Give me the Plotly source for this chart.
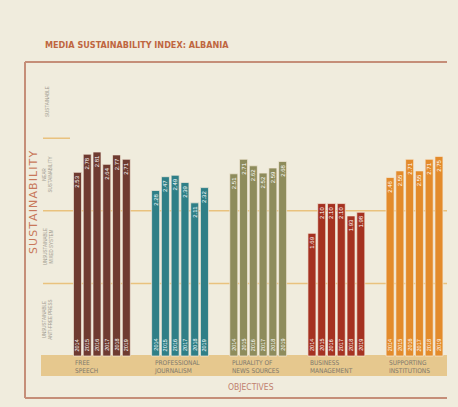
import plotly.graph_objects as go

W, H = 458, 407

categories = ["FREE<br>SPEECH", "PROFESSIONAL<br>JOURNALISM", "PLURALITY OF<br>NEWS SOURCES",
              "BUSINESS<br>MANAGEMENT", "SUPPORTING<br>INSTITUTIONS"]
years = ["2014", "2015", "2016", "2017", "2018", "2019"]
free_speech = [2.53, 2.78, 2.81, 2.64, 2.77, 2.71]
prof_journalism = [2.28, 2.47, 2.49, 2.39, 2.11, 2.32]
plurality = [2.51, 2.71, 2.62, 2.52, 2.59, 2.68]
business = [1.69, 2.10, 2.10, 2.10, 1.93, 1.98]
supporting = [2.46, 2.55, 2.71, 2.55, 2.71, 2.75]
series = [free_speech, prof_journalism, plurality, business, supporting]
colors = ["#6F3B31", "#2F7F87", "#8E8C5C", "#A53221", "#E38B2B"]
zone_labels = ["UNSUSTAINABLE<br>ANTI-FREE PRESS", "UNSUSTAINABLE<br>MIXED SYSTEM",
               "NEAR<br>SUSTAINABILITY", "SUSTAINABLE"]

CREAM = "#F0ECDD"
BAND = "#E6C88E"
GRID = "#E9C27E"
NARROW = "DejaVu Sans Condensed, Liberation Sans Narrow, Liberation Sans, sans-serif"


def xp(px):
    return px / W


def yp(py):
    return 1 - py / H


fig = go.Figure()

shapes = [
    dict(type="rect", xref="paper", yref="paper", x0=xp(41), x1=xp(447), y0=yp(376), y1=yp(355),
         fillcolor=BAND, line_width=0, layer="below"),
    dict(type="line", xref="paper", yref="paper", x0=xp(25), x1=xp(447), y0=yp(62), y1=yp(62),
         line=dict(color="#C58E78", width=2)),
    dict(type="line", xref="paper", yref="paper", x0=xp(25), x1=xp(25), y0=yp(62), y1=yp(398),
         line=dict(color="#C58E78", width=2)),
    dict(type="line", xref="paper", yref="paper", x0=xp(25), x1=xp(447), y0=yp(398), y1=yp(398),
         line=dict(color="#C58E78", width=2)),
]
for lvl, x1 in [(1, 447), (2, 447), (3, 70)]:
    shapes.append(dict(type="line", xref="paper", yref="y", x0=xp(43), x1=xp(x1), y0=lvl, y1=lvl,
                       line=dict(color=GRID, width=1.5), layer="below"))

annotations = []
for g, (vals, col) in enumerate(zip(series, colors)):
    xs = [g * 8 + i for i in range(len(vals))]
    fig.add_trace(go.Bar(
        x=xs, y=vals, width=0.82,
        marker=dict(color=col, line=dict(color="rgba(245,235,220,0.7)", width=1)),
        text=[f"{v:.2f}" for v in vals], textposition="inside", insidetextanchor="end",
        textangle=-90, textfont=dict(size=6, color="white", family="Liberation Sans"),
        constraintext="none", showlegend=False, hoverinfo="skip",
    ))
    for x, yr in zip(xs, years):
        annotations.append(dict(x=x, y=0, xref="x", yref="y", text=yr, showarrow=False,
                                textangle=-90, xanchor="center", yanchor="bottom", yshift=3,
                                font=dict(size=5.5, color="white", family="Liberation Sans")))

for px, cat in zip([73, 152, 230, 308, 387], categories):
    annotations.append(dict(x=xp(px), y=yp(366.5), xref="paper", yref="paper", text=cat,
                            showarrow=False, xanchor="left", yanchor="middle", align="left",
                            font=dict(size=6.5, color="#7E786C", family=NARROW)))

for i, lab in enumerate(zone_labels):
    annotations.append(dict(x=xp(48), y=i + 0.5, xref="paper", yref="y", text=lab,
                            showarrow=False, textangle=-90, xanchor="center", yanchor="middle",
                            font=dict(size=4.5, color="#A39D92", family="Liberation Sans")))

spaced = "\u200a".join("SUSTAINABILITY")
annotations += [
    dict(x=xp(43), y=yp(45), xref="paper", yref="paper", text="<b>MEDIA SUSTAINABILITY INDEX: ALBANIA</b>",
         showarrow=False, xanchor="left", yanchor="middle",
         font=dict(size=9, color="#BF6640", family=NARROW)),
    dict(x=xp(33), y=yp(203), xref="paper", yref="paper", text=spaced,
         showarrow=False, textangle=-90, xanchor="center", yanchor="middle",
         font=dict(size=11, color="#C8785A", family="DejaVu Sans")),
    dict(x=xp(251), y=yp(387), xref="paper", yref="paper", text="OBJECTIVES",
         showarrow=False, xanchor="center", yanchor="middle",
         font=dict(size=8.5, color="#C0806E", family=NARROW)),
]

fig.update_layout(
    width=W, height=H, autosize=False,
    margin=dict(l=0, r=0, t=0, b=0),
    paper_bgcolor=CREAM, plot_bgcolor="rgba(0,0,0,0)",
    barmode="overlay",
    xaxis=dict(range=[-7.93, 38.95], visible=False, fixedrange=True),
    yaxis=dict(range=[-0.702, 4.904], visible=False, fixedrange=True),
    shapes=shapes, annotations=annotations,
)

fig.write_html("out.html")
